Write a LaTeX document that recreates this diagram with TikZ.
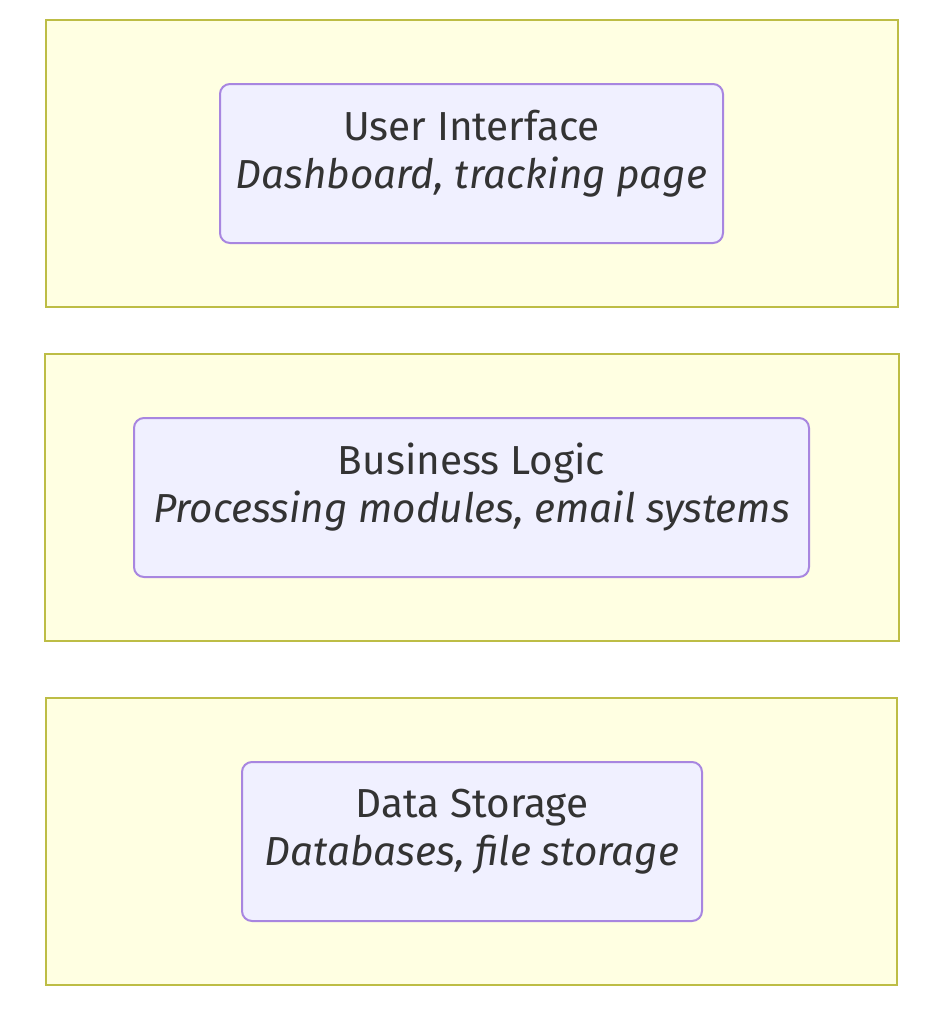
\documentclass[tikz,border=0pt]{standalone}
\usepackage{fontspec}
\setmainfont{Fira Sans}
\usepackage{tikz}
\usetikzlibrary{positioning}

\definecolor{layerfill}{HTML}{FFFFE2}
\definecolor{layerline}{HTML}{BDBD45}
\definecolor{partfill}{HTML}{F0F0FF}
\definecolor{partline}{HTML}{A886E0}
\definecolor{labeltext}{HTML}{333333}

\begin{document}
\begin{tikzpicture}[x=1pt, y=-1pt,
    layer/.style={draw=layerline, fill=layerfill, line width=2pt},
    part/.style={draw=partline, fill=partfill, line width=2pt, rounded corners=10pt,
      minimum height=159pt, inner sep=0pt},
    partlabel/.style={text=labeltext, align=center, inner sep=0pt,
      font=\fontsize{40.5}{48}\selectfont}
  ]
    \useasboundingbox (0,0) rectangle (941,1021);

    % 1. oberste Schicht
    \draw[layer] (46,20) rectangle (898,307);
    \node[part, minimum width=503pt] (ui) at (471.5,163.5) {};
    \node[partlabel] (uitext) at ([yshift=10pt]ui.center)
      {User Interface\\\textit{Dashboard, tracking page}};

    % 2. mittlere Schicht
    \draw[layer] (45,354) rectangle (899,641);
    \node[part, minimum width=675pt] (logic) at (471.5,497.5) {};
    \node[partlabel] (logictext) at ([yshift=10pt]logic.center)
      {Business Logic\\\textit{Processing modules, email systems}};

    % 3. unterste Schicht
    \draw[layer] (46,698) rectangle (897,985);
    \node[part, minimum width=460pt] (storage) at (472,841.5) {};
    \node[partlabel] (storagetext) at ([yshift=10pt]storage.center)
      {Data Storage\\\textit{Databases, file storage}};

\end{tikzpicture}
\end{document}
